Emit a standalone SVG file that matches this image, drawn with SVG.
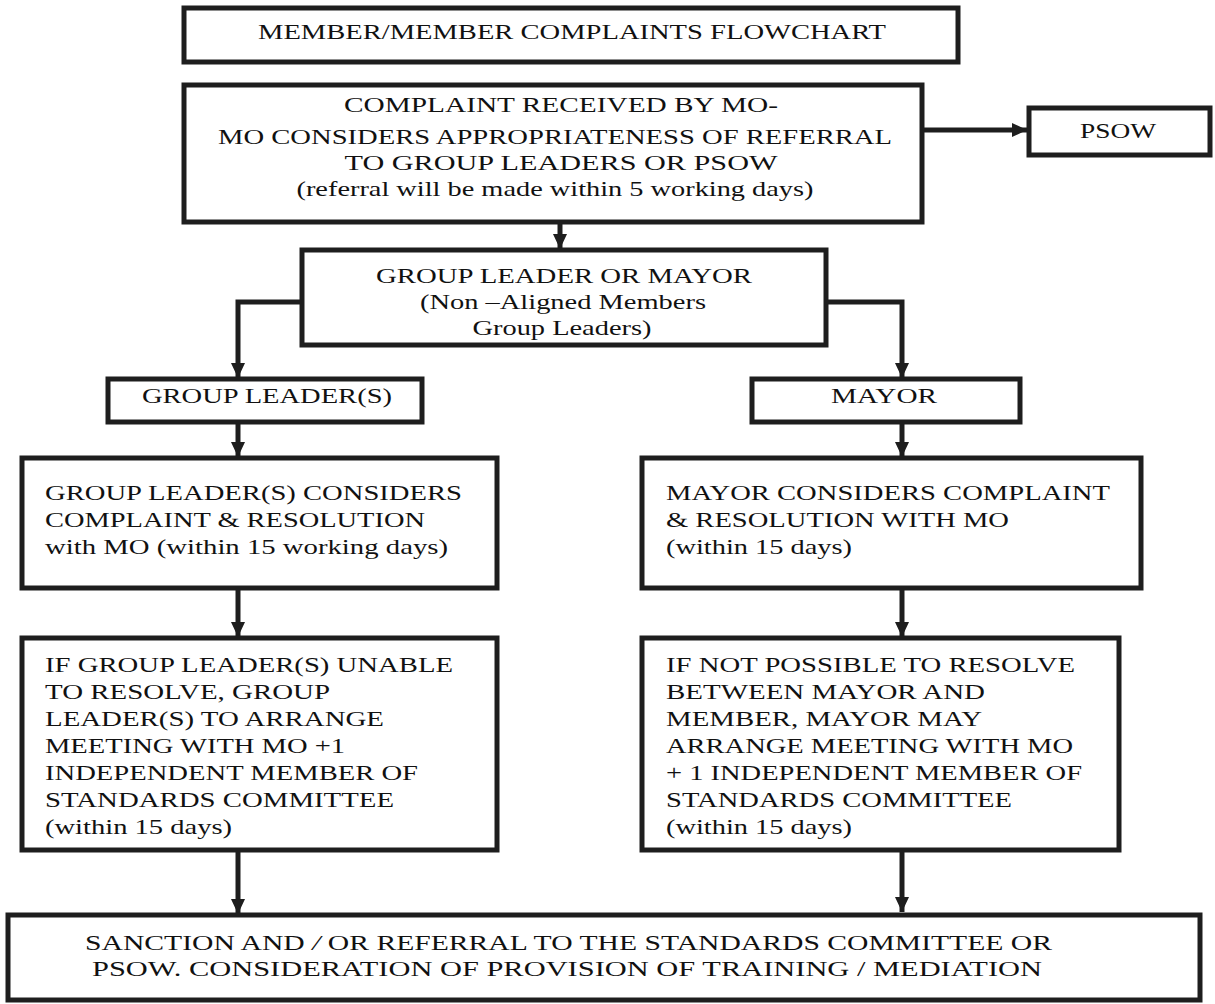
<svg xmlns="http://www.w3.org/2000/svg" width="1215" height="1004" viewBox="0 0 1215 1004" font-family="Liberation Serif, Times New Roman, serif">
<style>
.box{fill:#fff;stroke:#1e1e1e;stroke-width:5}
.t{font-size:22px;fill:#111}
.c{text-anchor:middle}
.conn{fill:none;stroke:#1e1e1e;stroke-width:5}
</style>
<defs>
<marker id="ah" markerUnits="userSpaceOnUse" markerWidth="16" markerHeight="16" viewBox="0 0 16 16" refX="15" refY="8" orient="auto">
<path d="M0,1 L15,8 L0,15 Z" fill="#1e1e1e"/>
</marker>
</defs>
<rect width="1215" height="1004" fill="#fff"/>
<g id="connectors">
<line class="conn" x1="922" y1="130" x2="1027" y2="130" marker-end="url(#ah)"/>
<line class="conn" x1="560" y1="222" x2="560" y2="249" marker-end="url(#ah)"/>
<polyline class="conn" points="302,302 238,302 238,378" marker-end="url(#ah)"/>
<polyline class="conn" points="818,302 902,302 902,378" marker-end="url(#ah)"/>
<line class="conn" x1="238" y1="422" x2="238" y2="457" marker-end="url(#ah)"/>
<line class="conn" x1="902" y1="422" x2="902" y2="457" marker-end="url(#ah)"/>
<line class="conn" x1="238" y1="588" x2="238" y2="637" marker-end="url(#ah)"/>
<line class="conn" x1="902" y1="588" x2="902" y2="637" marker-end="url(#ah)"/>
<line class="conn" x1="238" y1="850" x2="238" y2="914" marker-end="url(#ah)"/>
<line class="conn" x1="902" y1="850" x2="902" y2="912" marker-end="url(#ah)"/>
</g>
<g id="title">
<rect class="box" x="184" y="8" width="774" height="54"/>
<text class="t c" x="572" y="39" textLength="628" lengthAdjust="spacingAndGlyphs">MEMBER/MEMBER COMPLAINTS FLOWCHART</text>
</g>
<g id="complaint-received">
<rect class="box" x="184" y="85" width="738" height="137"/>
<text class="t c" x="561" y="112" textLength="434" lengthAdjust="spacingAndGlyphs">COMPLAINT RECEIVED BY MO-</text>
<text class="t c" x="555" y="144" textLength="674" lengthAdjust="spacingAndGlyphs">MO CONSIDERS APPROPRIATENESS OF REFERRAL</text>
<text class="t c" x="561" y="170" textLength="433" lengthAdjust="spacingAndGlyphs">TO GROUP LEADERS OR PSOW</text>
<text class="t c" x="555" y="196" textLength="517" lengthAdjust="spacingAndGlyphs">(referral will be made within 5 working days)</text>
</g>
<g id="psow">
<rect class="box" x="1029" y="108" width="181" height="47"/>
<text class="t c" x="1118" y="138" textLength="76" lengthAdjust="spacingAndGlyphs">PSOW</text>
</g>
<g id="group-leader-or-mayor">
<rect class="box" x="302" y="250" width="524" height="95"/>
<text class="t c" x="564" y="283" textLength="376" lengthAdjust="spacingAndGlyphs">GROUP LEADER OR MAYOR</text>
<text class="t c" x="563" y="309" textLength="286" lengthAdjust="spacingAndGlyphs">(Non –Aligned Members</text>
<text class="t c" x="562" y="335" textLength="179" lengthAdjust="spacingAndGlyphs">Group Leaders)</text>
</g>
<g id="group-leaders">
<rect class="box" x="108" y="379" width="314" height="43"/>
<text class="t c" x="267" y="403" textLength="250" lengthAdjust="spacingAndGlyphs">GROUP LEADER(S)</text>
</g>
<g id="mayor">
<rect class="box" x="752" y="379" width="268" height="43"/>
<text class="t c" x="884" y="403" textLength="106" lengthAdjust="spacingAndGlyphs">MAYOR</text>
</g>
<g id="gl-considers">
<rect class="box" x="22" y="458" width="475" height="130"/>
<text class="t" x="45" y="500" textLength="417" lengthAdjust="spacingAndGlyphs">GROUP LEADER(S) CONSIDERS</text>
<text class="t" x="45" y="527" textLength="380" lengthAdjust="spacingAndGlyphs">COMPLAINT &amp; RESOLUTION</text>
<text class="t" x="45" y="554" textLength="403" lengthAdjust="spacingAndGlyphs">with MO (within 15 working days)</text>
</g>
<g id="mayor-considers">
<rect class="box" x="642" y="458" width="499" height="130"/>
<text class="t" x="666" y="500" textLength="444" lengthAdjust="spacingAndGlyphs">MAYOR CONSIDERS COMPLAINT</text>
<text class="t" x="666" y="527" textLength="343" lengthAdjust="spacingAndGlyphs">&amp; RESOLUTION WITH MO</text>
<text class="t" x="666" y="554" textLength="186" lengthAdjust="spacingAndGlyphs">(within 15 days)</text>
</g>
<g id="gl-unable">
<rect class="box" x="22" y="638" width="475" height="212"/>
<text class="t" x="45" y="672" textLength="408" lengthAdjust="spacingAndGlyphs">IF GROUP LEADER(S) UNABLE</text>
<text class="t" x="45" y="699" textLength="285" lengthAdjust="spacingAndGlyphs">TO RESOLVE, GROUP</text>
<text class="t" x="45" y="726" textLength="339" lengthAdjust="spacingAndGlyphs">LEADER(S) TO ARRANGE</text>
<text class="t" x="45" y="753" textLength="300" lengthAdjust="spacingAndGlyphs">MEETING WITH MO +1</text>
<text class="t" x="45" y="780" textLength="373" lengthAdjust="spacingAndGlyphs">INDEPENDENT MEMBER OF</text>
<text class="t" x="45" y="807" textLength="349" lengthAdjust="spacingAndGlyphs">STANDARDS COMMITTEE</text>
<text class="t" x="45" y="834" textLength="187" lengthAdjust="spacingAndGlyphs">(within 15 days)</text>
</g>
<g id="mayor-unable">
<rect class="box" x="642" y="638" width="477" height="212"/>
<text class="t" x="666" y="672" textLength="409" lengthAdjust="spacingAndGlyphs">IF NOT POSSIBLE TO RESOLVE</text>
<text class="t" x="666" y="699" textLength="319" lengthAdjust="spacingAndGlyphs">BETWEEN MAYOR AND</text>
<text class="t" x="666" y="726" textLength="316" lengthAdjust="spacingAndGlyphs">MEMBER, MAYOR MAY</text>
<text class="t" x="666" y="753" textLength="407" lengthAdjust="spacingAndGlyphs">ARRANGE MEETING WITH MO</text>
<text class="t" x="666" y="780" textLength="416" lengthAdjust="spacingAndGlyphs">+ 1 INDEPENDENT MEMBER OF</text>
<text class="t" x="666" y="807" textLength="346" lengthAdjust="spacingAndGlyphs">STANDARDS COMMITTEE</text>
<text class="t" x="666" y="834" textLength="186" lengthAdjust="spacingAndGlyphs">(within 15 days)</text>
</g>
<g id="sanction">
<rect class="box" x="8" y="915" width="1192" height="85"/>
<text class="t" x="85" y="950" textLength="967" lengthAdjust="spacingAndGlyphs">SANCTION  AND <tspan font-style="italic">/</tspan> OR REFERRAL  TO THE STANDARDS  COMMITTEE  OR</text>
<text class="t" x="92" y="976" textLength="950" lengthAdjust="spacingAndGlyphs">PSOW.  CONSIDERATION OF PROVISION OF TRAINING /  MEDIATION</text>
</g>
</svg>
